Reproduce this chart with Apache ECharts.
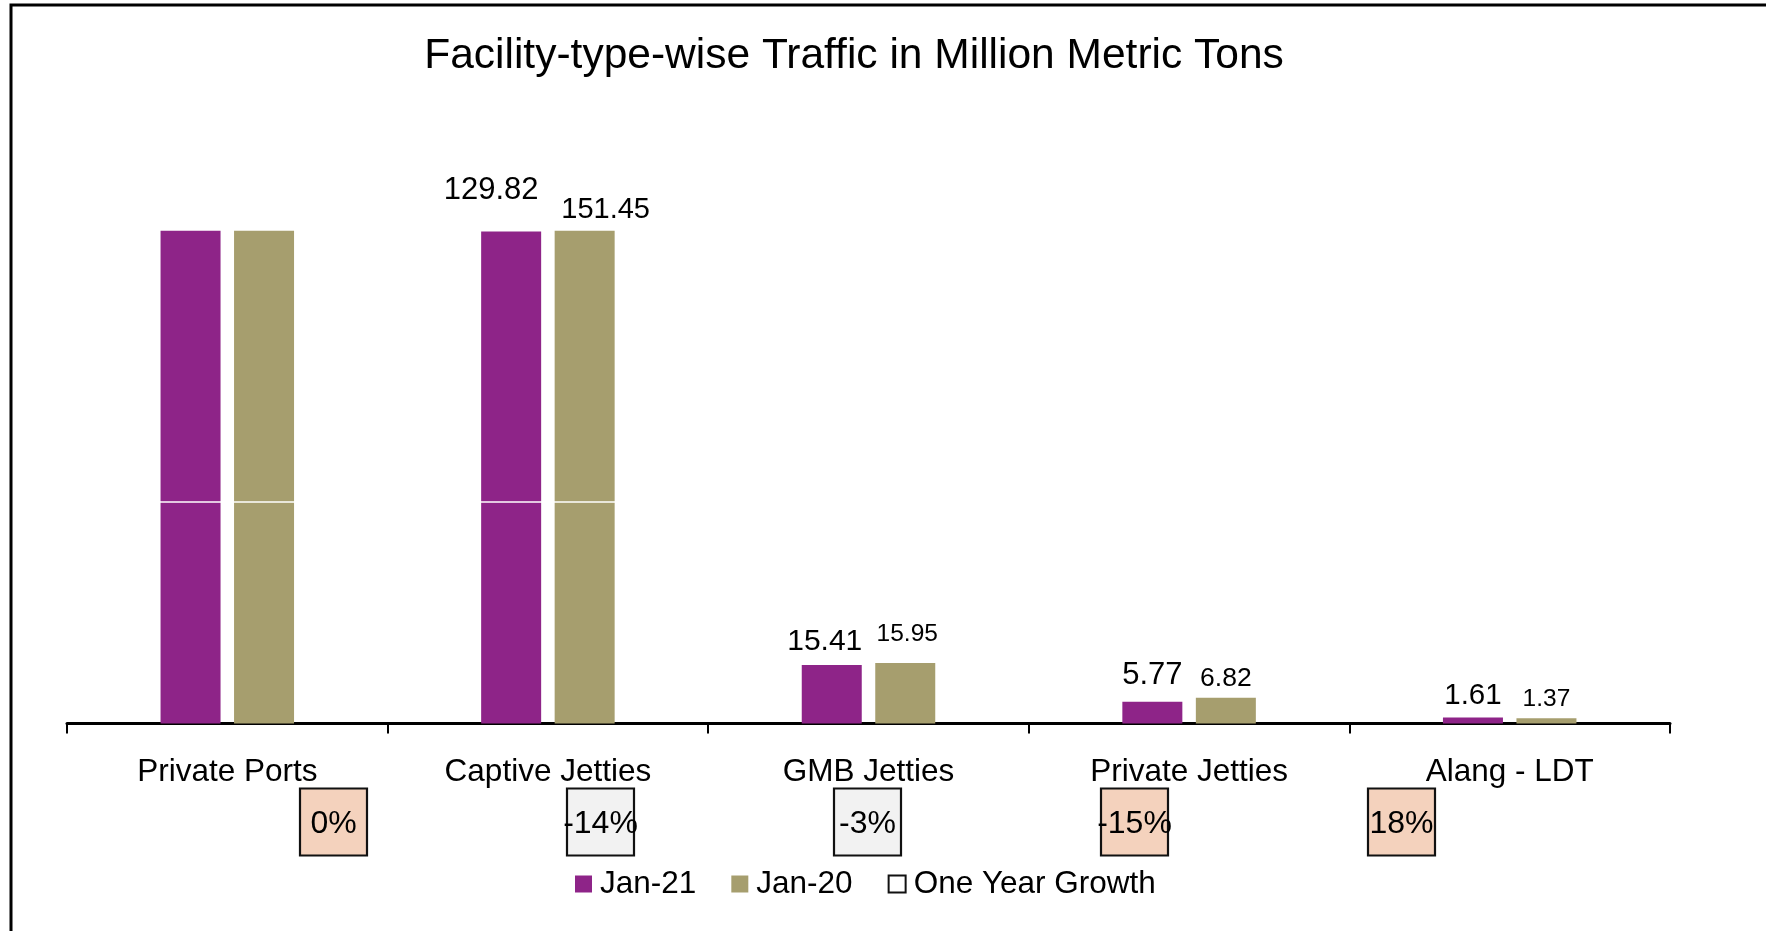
<!DOCTYPE html>
<html>
<head>
<meta charset="utf-8">
<script src="https://cdn.jsdelivr.net/npm/echarts@6/dist/echarts.min.js"></script>
<style>
html,body{margin:0;padding:0;background:#fff;}
#chart{width:1766px;height:931px;}
</style>
</head>
<body>
<div id="chart"></div>
<script>
// ---- data ----
const categories = ['Private Ports', 'Captive Jetties', 'GMB Jetties', 'Private Jetties', 'Alang - LDT'];
const seriesNames = ['Jan-21', 'Jan-20', 'One Year Growth'];
// Private Ports bars run off the top of the plot and carry no label: estimated values
const jan21 = [170.0, 129.82, 15.41, 5.77, 1.61];
const jan20 = [170.0, 151.45, 15.95, 6.82, 1.37];
const growthPct = [0, -14, -3, -15, 18];

// ---- styling ----
const FONT = 'Arial, "Liberation Sans", sans-serif';
const yMax = 130;
const breakValue = 58.4;
const labelStyle = {
  jan21: { show: [false, true, true, true, true], size: [30, 31, 30, 31, 29.5], gap: [10, 25.5, 8.5, 10.5, 6.5], dx: [0, -20, -7, 0, 0] },
  jan20: { show: [false, true, true, true, true], size: [26, 29, 24.5, 26.5, 24.5], gap: [10, 6, 16, 5, 6.5], dx: [0, 21, 2, 0, 0] }
};
const boxColors = ['#F4D2BD', '#F2F2F2', '#F2F2F2', '#F4D2BD', '#F4D2BD'];

function barData(values, st) {
  return values.map((v, i) => ({
    value: v,
    label: {
      show: st.show[i],
      fontSize: st.size[i],
      distance: st.gap[i],
      offset: [st.dx[i], 0]
    }
  }));
}

const chart = echarts.init(document.getElementById('chart'));
chart.setOption({
  animation: false,
  backgroundColor: '#ffffff',
  textStyle: { fontFamily: FONT },
  title: {
    text: 'Facility-type-wise Traffic in Million Metric Tons',
    left: 849,
    textAlign: 'center',
    top: 30,
    textStyle: { fontFamily: FONT, fontSize: 42.5, fontWeight: 'normal', color: '#000' }
  },
  graphic: [{
    type: 'rect',
    shape: { x: 11, y: 5, width: 1900, height: 1100 },
    style: { fill: 'none', stroke: '#000', lineWidth: 3 },
    silent: true
  }],
  legend: {
    data: seriesNames,
    left: 570,
    top: 863,
    icon: 'rect',
    itemWidth: 17,
    itemHeight: 17,
    itemGap: 35,
    textStyle: { fontFamily: FONT, fontSize: 31.5, color: '#000', padding: [0, 0, 0, 3] }
  },
  grid: [
    { left: 67, right: 96, top: 230.7, bottom: 207.5 },
    { left: 200, width: 1335, top: 812, height: 20 }
  ],
  xAxis: [
    {
      type: 'category', gridIndex: 0, data: categories,
      axisLine: { lineStyle: { color: '#000', width: 3 } },
      axisTick: { show: true, length: 10, lineStyle: { color: '#000', width: 2 } },
      axisLabel: { fontFamily: FONT, fontSize: 31.5, color: '#000', margin: 33 },
      splitLine: { show: false }
    },
    { type: 'category', gridIndex: 1, data: categories, show: false }
  ],
  yAxis: [
    { type: 'value', gridIndex: 0, min: 0, max: yMax, show: false, splitLine: { show: false } },
    { type: 'value', gridIndex: 1, min: -1, max: 1, show: false, splitLine: { show: false } }
  ],
  series: [
    {
      name: seriesNames[0], type: 'bar', xAxisIndex: 0, yAxisIndex: 0,
      barWidth: 60, barGap: '22.5%', clip: true,
      itemStyle: { color: '#8E2488' },
      label: {
        position: 'top', color: '#000', fontFamily: FONT,
        formatter: p => p.value.toFixed(2)
      },
      data: barData(jan21, labelStyle.jan21)
    },
    {
      name: seriesNames[1], type: 'bar', xAxisIndex: 0, yAxisIndex: 0,
      barWidth: 60, barGap: '22.5%', clip: true,
      itemStyle: { color: '#A69E6E' },
      label: {
        position: 'top', color: '#000', fontFamily: FONT,
        formatter: p => p.value.toFixed(2)
      },
      data: barData(jan20, labelStyle.jan20),
      markLine: {
        silent: true, symbol: ['none', 'none'],
        label: { show: false },
        lineStyle: { color: '#ffffff', width: 1.5, type: 'solid' },
        data: [{ yAxis: breakValue }]
      }
    },
    {
      name: seriesNames[2], type: 'scatter', xAxisIndex: 1, yAxisIndex: 1,
      symbol: 'rect', symbolSize: 67,
      itemStyle: { color: '#ffffff', borderColor: '#111111', borderWidth: 2.2, opacity: 1 },
      label: {
        show: true, position: 'inside', color: '#000', fontFamily: FONT, fontSize: 32,
        opacity: 1, textBorderWidth: 0, textBorderColor: 'transparent',
        offset: [0, 2],
        formatter: p => growthPct[p.dataIndex] + '%'
      },
      data: growthPct.map((g, i) => ({ value: [i, 0], itemStyle: { color: boxColors[i] } }))
    }
  ]
});
</script>
</body>
</html>
